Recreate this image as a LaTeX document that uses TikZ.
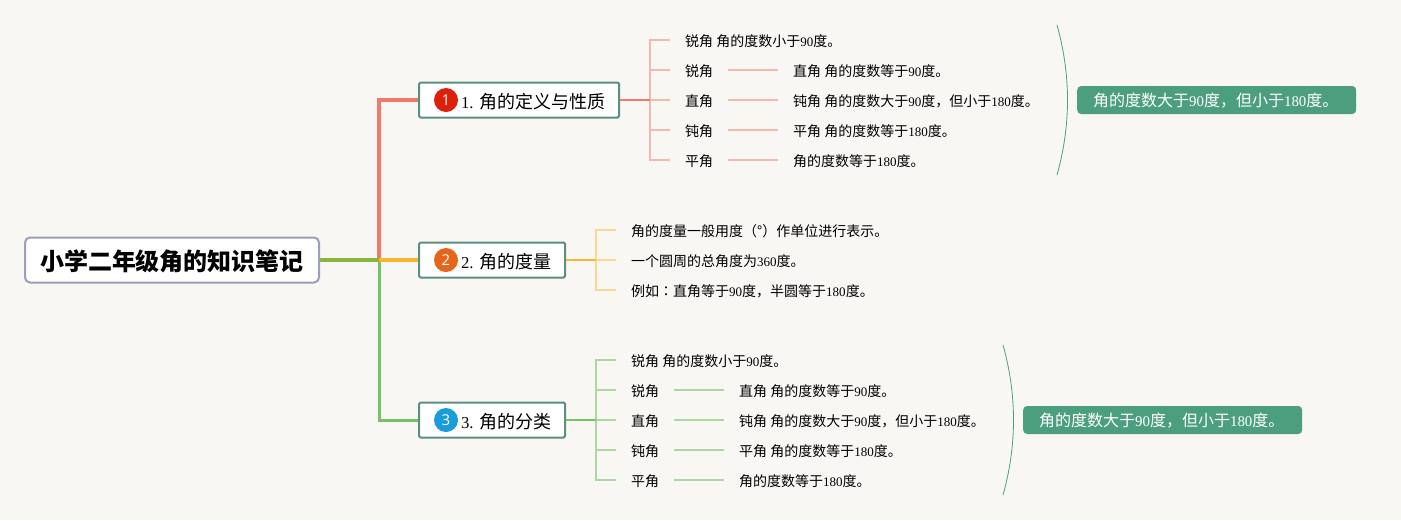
\documentclass[tikz,border=0pt]{standalone}
\usepackage{fontspec}
\setmainfont{Noto Sans CJK SC}
\newfontfamily\numfont[Scale=0.93]{Liberation Serif}
\newfontfamily\badgefont{Open Sans}
\newfontfamily\colonfont{Noto Sans CJK TC}
\newcommand{\nm}[1]{{\numfont #1}}
\definecolor{paper}{HTML}{F9F7F4}
\definecolor{rootline}{HTML}{9A9FBB}
\definecolor{topicline}{HTML}{5A9080}
\definecolor{sumfill}{HTML}{4C9F7E}
\definecolor{redA}{HTML}{F4776A}
\definecolor{redB}{HTML}{F4B9AE}
\definecolor{orangeA}{HTML}{F8B62D}
\definecolor{orangeB}{HTML}{FAD892}
\definecolor{greenA}{HTML}{78C164}
\definecolor{greenB}{HTML}{ACD8A0}
\definecolor{stem}{HTML}{8AB53C}
\definecolor{badgeR}{HTML}{DE1F0A}
\definecolor{badgeO}{HTML}{E5651A}
\definecolor{badgeB}{HTML}{1A9BDC}
\begin{document}
\begin{tikzpicture}[x=1pt,y=-1pt]
        \tikzstyle{root}=[draw=rootline,fill=white,line width=2pt,rounded corners=5pt,inner xsep=15pt,inner ysep=0pt,minimum height=45pt,text height=21pt,text depth=1pt,font=\fontsize{24}{28}\selectfont\bfseries,anchor=west]
        \tikzstyle{topic}=[draw=topicline,fill=white,line width=2pt,rounded corners=1.5pt,inner xsep=14pt,inner ysep=0pt,minimum height=35pt,text height=16pt,text depth=0pt,font=\fontsize{18}{22}\selectfont,anchor=west]
        \tikzstyle{badge}=[circle,inner sep=0pt,minimum size=24pt,text=white,font=\fontsize{15}{18}\selectfont\badgefont]
        \tikzstyle{leaf}=[inner xsep=15pt,inner ysep=0pt,text height=14pt,text depth=2pt,font=\fontsize{14}{16}\selectfont,anchor=west]
        \tikzstyle{summary}=[fill=sumfill,text=white,rounded corners=4pt,inner xsep=16pt,inner ysep=0pt,text width=247pt,align=left,text height=15pt,text depth=3pt,minimum height=28pt,font=\fontsize{16}{18}\selectfont,anchor=west]
        \tikzstyle{brace}=[draw=sumfill,line width=0.8pt]
        \useasboundingbox[fill=paper] (0,0) rectangle (1401,520);
        % main nodes
        \node[root] (root) at (24,260) {小学二年级角的知识笔记};
        \node[topic] (topicA) at (418,100) {\hspace{28pt}\nm{1. }角的定义与性质\hspace{1pt}};
        \node[topic] (topicB) at (418,260) {\hspace{28pt}\nm{2. }角的度量\hspace{1pt}};
        \node[topic] (topicC) at (418,420) {\hspace{28pt}\nm{3. }角的分类\hspace{1pt}};
        \node[badge,fill=badgeR] (badgeA) at (446,100) {1};
        \node[badge,fill=badgeO] (badgeB) at (446,260) {2};
        \node[badge,fill=badgeB] (badgeC) at (446,420) {3};
        \coordinate (fork) at (379,260);
        \coordinate (jointA) at (650,100);
        \coordinate (jointB) at (596,260);
        \coordinate (jointC) at (596,420);
        % definition branch
        \node[leaf] (a1) at (670,40) {锐角 角的度数小于\nm{90}度。};
        \node[leaf] (a2) at (670,70) {锐角};
        \node[leaf] (a3) at (670,100) {直角};
        \node[leaf] (a4) at (670,130) {钝角};
        \node[leaf] (a5) at (670,160) {平角};
        \node[leaf] (aa2) at (778,70) {直角 角的度数等于\nm{90}度。};
        \node[leaf] (aa3) at (778,100) {钝角 角的度数大于\nm{90}度，但小于\nm{180}度。};
        \node[leaf] (aa4) at (778,130) {平角 角的度数等于\nm{180}度。};
        \node[leaf] (aa5) at (778,160) {角的度数等于\nm{180}度。};
        \node[summary] (sumA) at (1077,100) {角的度数大于\nm{90}度，但小于\nm{180}度。};
        \coordinate (braceA1) at (1057,25);
        \coordinate (braceA2) at (1057,175);
        % measure branch
        \node[leaf] (b1) at (616,230) {角的度量一般用度（°）作单位进行表示。};
        \node[leaf] (b2) at (616,260) {一个圆周的总角度为\nm{360}度。};
        \node[leaf] (b3) at (616,290) {例如{\colonfont ：}直角等于\nm{90}度，半圆等于\nm{180}度。};
        % classes branch
        \node[leaf] (c1) at (616,360) {锐角 角的度数小于\nm{90}度。};
        \node[leaf] (c2) at (616,390) {锐角};
        \node[leaf] (c3) at (616,420) {直角};
        \node[leaf] (c4) at (616,450) {钝角};
        \node[leaf] (c5) at (616,480) {平角};
        \node[leaf] (cc2) at (724,390) {直角 角的度数等于\nm{90}度。};
        \node[leaf] (cc3) at (724,420) {钝角 角的度数大于\nm{90}度，但小于\nm{180}度。};
        \node[leaf] (cc4) at (724,450) {平角 角的度数等于\nm{180}度。};
        \node[leaf] (cc5) at (724,480) {角的度数等于\nm{180}度。};
        \node[summary] (sumC) at (1023,420) {角的度数大于\nm{90}度，但小于\nm{180}度。};
        \coordinate (braceC1) at (1003,345);
        \coordinate (braceC2) at (1003,495);
        % connectors
        \draw[redA,line width=4pt] (fork) |- (topicA.west);
        \draw[greenA,line width=3pt] (fork) |- (topicC.west);
        \draw[orangeA,line width=3.5pt] (fork) -- (topicB.west);
        \draw[stem,line width=4pt] (root.east) -- (fork);
        \draw[redB,line width=1.5pt] (jointA) |- (a1.west) (jointA) |- (a2.west) (jointA) -- (a3.west) (jointA) |- (a4.west) (jointA) |- (a5.west);
        \draw[redA,line width=2.5pt] (topicA.east) -- (jointA);
        \draw[redB,line width=1.5pt] (a2.east) -- (aa2.west) (a3.east) -- (aa3.west) (a4.east) -- (aa4.west) (a5.east) -- (aa5.west);
        \draw[orangeB,line width=1.5pt] (jointB) |- (b1.west) (jointB) -- (b2.west) (jointB) |- (b3.west);
        \draw[orangeA,line width=2.5pt] (topicB.east) -- (jointB);
        \draw[greenB,line width=1.5pt] (jointC) |- (c1.west) (jointC) |- (c2.west) (jointC) -- (c3.west) (jointC) |- (c4.west) (jointC) |- (c5.west);
        \draw[greenA,line width=2.5pt] (topicC.east) -- (jointC);
        \draw[greenB,line width=1.5pt] (c2.east) -- (cc2.west) (c3.east) -- (cc3.west) (c4.east) -- (cc4.west) (c5.east) -- (cc5.west);
        \draw[brace] (braceA1) .. controls (1071,75) and (1071,125) .. (braceA2);
        \draw[brace] (braceC1) .. controls (1017,395) and (1017,445) .. (braceC2);
    \end{tikzpicture}
\end{document}
